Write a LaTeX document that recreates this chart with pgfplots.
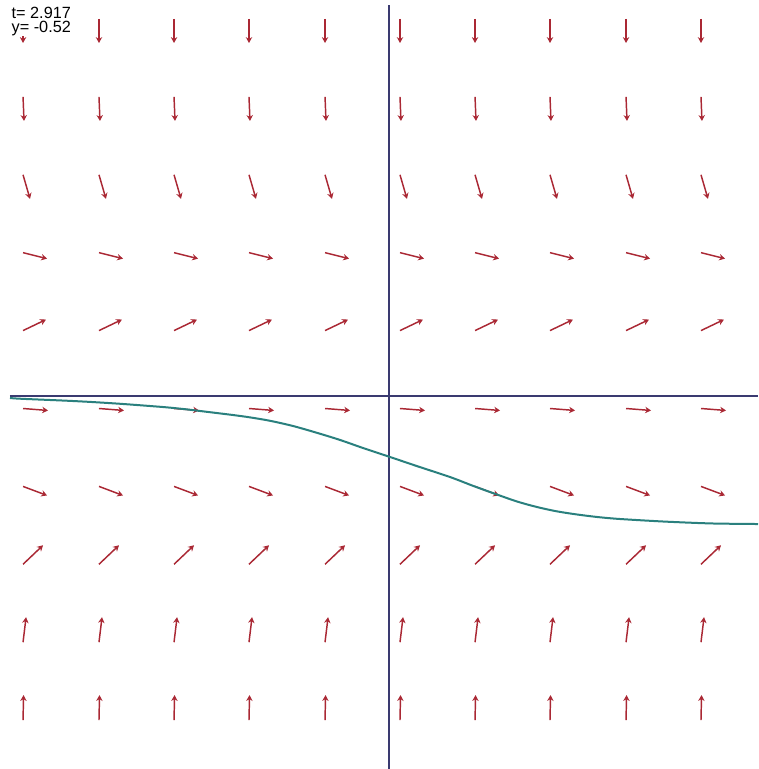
\documentclass[border=0pt]{standalone}
\usepackage{pgfplots}
\pgfplotsset{compat=1.18}
\usepackage{fontspec}
\setmainfont{Liberation Sans}
\usetikzlibrary{arrows.meta}
\definecolor{arrowred}{RGB}{170,40,52}
\definecolor{axisblue}{RGB}{58,58,112}
\definecolor{curveteal}{RGB}{42,128,126}
\begin{document}
\begin{tikzpicture}
\begin{axis}[
  scale only axis,
  width=10cm, height=10.145cm,
  xmin=-5.1319, xmax=4.8681,
  ymin=-4.9208, ymax=5.2243,
  axis line style={draw=none},
  axis background/.style={fill=white},
  ticks=none,
  clip=true,
]
% coordinate axes
\addplot[axisblue, line width=0.8pt] coordinates {(-5.0,0) (4.8681,0)};
\addplot[axisblue, line width=0.8pt] coordinates {(0,5.158) (0,-4.9208)};
% slope field
\addplot[arrowred, line width=0.55pt, -{Stealth[length=2.2pt,width=2.4pt]},
  quiver={u=\thisrow{u}, v=\thisrow{v}}] table {
x y u v
-4.828 4.974 0 -0.317
-3.826 4.974 0 -0.317
-2.836 4.974 0 -0.317
-1.847 4.974 0 -0.317
-0.844 4.974 0 -0.317
0.145 4.974 0 -0.317
1.135 4.974 0 -0.317
2.124 4.974 0 -0.317
3.127 4.974 0 -0.317
4.116 4.974 0 -0.317
-4.828 3.946 0.013 -0.317
-3.826 3.946 0.013 -0.317
-2.836 3.946 0.013 -0.317
-1.847 3.946 0.013 -0.317
-0.844 3.946 0.013 -0.317
0.145 3.946 0.013 -0.317
1.135 3.946 0.013 -0.317
2.124 3.946 0.013 -0.317
3.127 3.946 0.013 -0.317
4.116 3.946 0.013 -0.317
-4.828 2.918 0.092 -0.317
-3.826 2.918 0.092 -0.317
-2.836 2.918 0.092 -0.317
-1.847 2.918 0.092 -0.317
-0.844 2.918 0.092 -0.317
0.145 2.918 0.092 -0.317
1.135 2.918 0.092 -0.317
2.124 2.918 0.092 -0.317
3.127 2.918 0.092 -0.317
4.116 2.918 0.092 -0.317
-4.828 1.891 0.317 -0.079
-3.826 1.891 0.317 -0.079
-2.836 1.891 0.317 -0.079
-1.847 1.891 0.317 -0.079
-0.844 1.891 0.317 -0.079
0.145 1.891 0.317 -0.079
1.135 1.891 0.317 -0.079
2.124 1.891 0.317 -0.079
3.127 1.891 0.317 -0.079
4.116 1.891 0.317 -0.079
-4.828 0.863 0.303 0.145
-3.826 0.863 0.303 0.145
-2.836 0.863 0.303 0.145
-1.847 0.863 0.303 0.145
-0.844 0.863 0.303 0.145
0.145 0.863 0.303 0.145
1.135 0.863 0.303 0.145
2.124 0.863 0.303 0.145
3.127 0.863 0.303 0.145
4.116 0.863 0.303 0.145
-4.828 -0.165 0.330 -0.026
-3.826 -0.165 0.330 -0.026
-2.836 -0.165 0.330 -0.026
-1.847 -0.165 0.330 -0.026
-0.844 -0.165 0.330 -0.026
0.145 -0.165 0.330 -0.026
1.135 -0.165 0.330 -0.026
2.124 -0.165 0.330 -0.026
3.127 -0.165 0.330 -0.026
4.116 -0.165 0.330 -0.026
-4.828 -1.193 0.317 -0.119
-3.826 -1.193 0.317 -0.119
-2.836 -1.193 0.317 -0.119
-1.847 -1.193 0.317 -0.119
-0.844 -1.193 0.317 -0.119
0.145 -1.193 0.317 -0.119
1.135 -1.193 0.317 -0.119
2.124 -1.193 0.317 -0.119
3.127 -1.193 0.317 -0.119
4.116 -1.193 0.317 -0.119
-4.828 -2.220 0.264 0.251
-3.826 -2.220 0.264 0.251
-2.836 -2.220 0.264 0.251
-1.847 -2.220 0.264 0.251
-0.844 -2.220 0.264 0.251
0.145 -2.220 0.264 0.251
1.135 -2.220 0.264 0.251
2.124 -2.220 0.264 0.251
3.127 -2.220 0.264 0.251
4.116 -2.220 0.264 0.251
-4.828 -3.248 0.040 0.330
-3.826 -3.248 0.040 0.330
-2.836 -3.248 0.040 0.330
-1.847 -3.248 0.040 0.330
-0.844 -3.248 0.040 0.330
0.145 -3.248 0.040 0.330
1.135 -3.248 0.040 0.330
2.124 -3.248 0.040 0.330
3.127 -3.248 0.040 0.330
4.116 -3.248 0.040 0.330
-4.828 -4.276 0.007 0.330
-3.826 -4.276 0.007 0.330
-2.836 -4.276 0.007 0.330
-1.847 -4.276 0.007 0.330
-0.844 -4.276 0.007 0.330
0.145 -4.276 0.007 0.330
1.135 -4.276 0.007 0.330
2.124 -4.276 0.007 0.330
3.127 -4.276 0.007 0.330
4.116 -4.276 0.007 0.330
};
% solution curve
\addplot[curveteal, line width=0.75pt, smooth, tension=0.5] coordinates {
(-5.000,-0.026) (-4.868,-0.036) (-4.301,-0.060) (-3.945,-0.078)
(-3.588,-0.100) (-3.285,-0.122) (-2.929,-0.150) (-2.665,-0.177)
(-2.401,-0.209) (-2.058,-0.251) (-1.834,-0.282) (-1.570,-0.327)
(-1.266,-0.396) (-0.950,-0.486) (-0.646,-0.580) (-0.343,-0.686)
(0,-0.800) (0.369,-0.925) (0.805,-1.069) (1.108,-1.185)
(1.425,-1.300) (1.689,-1.392) (1.953,-1.465) (2.216,-1.522)
(2.480,-1.563) (2.744,-1.596) (3.008,-1.620) (3.417,-1.645)
(3.747,-1.662) (4.274,-1.682) (4.868,-1.689)
};
% readout
\node[anchor=north west, fill=white, inner sep=0.15pt, align=left,
  font=\fontsize{6.1}{5.1}\selectfont]
  at (axis cs:-4.99,5.14) {t= 2.917\\y= -0.52};
\end{axis}
\end{tikzpicture}
\end{document}
